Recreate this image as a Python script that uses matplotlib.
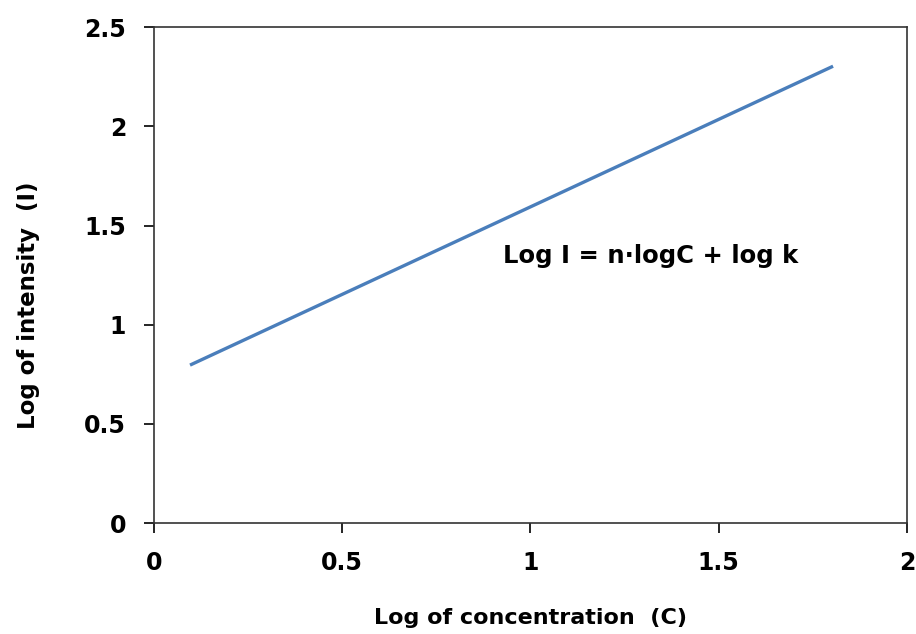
import matplotlib.pyplot as plt
import numpy as np

# line end points
log_c = np.array([0.1, 1.8])
log_i = np.array([0.8, 2.3])

x_ticks = [0, 0.5, 1, 1.5, 2]
y_ticks = [0, 0.5, 1, 1.5, 2, 2.5]

fig = plt.figure(figsize=(9.16, 6.34), dpi=100)
ax = fig.add_axes([0.168, 0.175, 0.822, 0.782])

ax.plot(log_c, log_i, color='#4A7EBB', linewidth=2.4)

ax.set_xlim(0, 2)
ax.set_ylim(0, 2.5)
ax.set_xticks(x_ticks)
ax.set_yticks(y_ticks)
ax.set_xticklabels([f'{t:g}' for t in x_ticks])
ax.set_yticklabels([f'{t:g}' for t in y_ticks])
ax.tick_params(direction='out', length=7, width=1.2, labelsize=17)
ax.tick_params(axis='y', pad=13)
ax.tick_params(axis='x', pad=13)
for lab in ax.get_xticklabels() + ax.get_yticklabels():
    lab.set_fontweight('bold')
for sp in ax.spines.values():
    sp.set_linewidth(1.2)
    sp.set_color('#333333')

ax.set_xlabel('Log of concentration  (C)', fontsize=16, fontweight='bold', labelpad=24)
ax.set_ylabel('Log of intensity  (I)', fontsize=16.5, fontweight='bold', labelpad=32)
ax.yaxis.label.set_y(0.44)

ax.text(0.927, 1.31, 'Log I = n\u00b7logC + log k', fontsize=17.5, fontweight='bold', va='baseline')

fig.savefig('out.png', dpi=100)
